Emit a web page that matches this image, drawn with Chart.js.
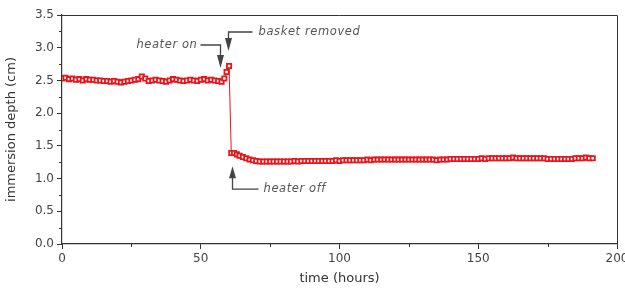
<!DOCTYPE html>
<html>
  <head>
    <title>Immersion depth</title>
    <script src="https://cdn.jsdelivr.net/npm/chart.js"></script>
    <style>
      body {
        margin: 0;
        background: #fff;
        overflow: hidden;
      }
      #wrap {
        width: 625px;
        height: 290px;
        overflow: hidden;
      }
    </style>
  </head>
  <body>
    <div id="wrap">
      <canvas id="depthChart" width="640" height="290"></canvas>
    </div>

    <script>
      // time (hours)
      const times = [
        0, 1.25, 2.5, 3.75, 5, 6.25, 7.5, 8.75, 10, 11.25, 12.5, 13.75, 15,
        16.25, 17.5, 18.75, 20, 21.25, 22.5, 23.75, 25, 26.25, 27.5, 28.75, 30,
        31.25, 32.5, 33.75, 35, 36.25, 37.5, 38.75, 40, 41.25, 42.5, 43.75, 45,
        46.25, 47.5, 48.75, 50, 51.25, 52.5, 53.75, 55, 56.25, 57.5,
        58.5, 59.3, 60.2,
        61, 62, 63, 64, 65.2, 66.4, 67.6, 68.8, 70,
        71.25, 72.5, 73.75, 75, 76.25, 77.5, 78.75, 80, 81.25, 82.5, 83.75, 85,
        86.25, 87.5, 88.75, 90, 91.25, 92.5, 93.75, 95, 96.25, 97.5, 98.75, 100,
        101.25, 102.5, 103.75, 105, 106.25, 107.5, 108.75, 110, 111.25, 112.5,
        113.75, 115, 116.25, 117.5, 118.75, 120, 121.25, 122.5, 123.75, 125,
        126.25, 127.5, 128.75, 130, 131.25, 132.5, 133.75, 135, 136.25, 137.5,
        138.75, 140, 141.25, 142.5, 143.75, 145, 146.25, 147.5, 148.75, 150,
        151.25, 152.5, 153.75, 155, 156.25, 157.5, 158.75, 160, 161.25, 162.5,
        163.75, 165, 166.25, 167.5, 168.75, 170, 171.25, 172.5, 173.75, 175,
        176.25, 177.5, 178.75, 180, 181.25, 182.5, 183.75, 185, 186.25, 187.5,
        188.75, 190, 191.25, 192.5, 193.75,
      ];

      // immersion depth (cm)
      const depths = [
        2.53, 2.54, 2.52, 2.53, 2.51, 2.52, 2.5, 2.52, 2.51, 2.51, 2.5, 2.5, 2.49,
        2.49, 2.48, 2.49, 2.48, 2.47, 2.48, 2.49, 2.5, 2.51, 2.52, 2.56, 2.53,
        2.49, 2.5, 2.51, 2.5, 2.49, 2.48, 2.5, 2.52, 2.51, 2.5, 2.49, 2.5,
        2.51, 2.5, 2.49, 2.51, 2.52, 2.5, 2.51, 2.5, 2.49, 2.48,
        2.53, 2.63, 2.72,
        1.39, 1.39, 1.37, 1.35, 1.33, 1.31, 1.29, 1.28, 1.27,
        1.26, 1.26, 1.26, 1.26, 1.26, 1.26, 1.26, 1.26, 1.26, 1.26, 1.27, 1.26,
        1.27, 1.27, 1.27, 1.27, 1.27, 1.27, 1.27, 1.27, 1.27, 1.27, 1.28, 1.27,
        1.28, 1.28, 1.28, 1.28, 1.28, 1.28, 1.28, 1.29, 1.28, 1.29,
        1.29, 1.29, 1.29, 1.29, 1.29, 1.29, 1.29, 1.29, 1.29, 1.29,
        1.29, 1.29, 1.29, 1.29, 1.29, 1.29, 1.29, 1.28, 1.29, 1.29,
        1.29, 1.3, 1.3, 1.3, 1.3, 1.3, 1.3, 1.3,
        1.3, 1.3, 1.31, 1.3, 1.31, 1.31, 1.31, 1.31, 1.31, 1.31,
        1.31, 1.32, 1.31, 1.31, 1.31, 1.31, 1.31, 1.31, 1.31, 1.31,
        1.31, 1.3, 1.3, 1.3, 1.3, 1.3, 1.3, 1.3, 1.3, 1.31,
        1.31, 1.31, 1.32, 1.31, 1.31,
      ];

      const xTicks = [0, 50, 100, 150, 200];
      const yTicks = [0, 0.5, 1.0, 1.5, 2.0, 2.5, 3.0, 3.5];

      // annotation anchors in data units: [time, depth]
      const notes = [
        { text: "heater on", at: [56.9, 2.69], side: "left" },
        { text: "basket removed", at: [59.8, 2.95], side: "right" },
        { text: "heater off", at: [61.3, 1.19], side: "below" },
      ];

      const points = times.map((t, i) => ({ x: t, y: depths[i] }));

      const FONT = "'DejaVu Sans', sans-serif";
      const AXIS = "#333";
      const RED = "#e8141c";

      // frame + minor ticks + arrows
      const extras = {
        id: "extras",
        afterDraw(chart) {
          const ctx = chart.ctx;
          const a = chart.chartArea;
          const xs = chart.scales.x;
          const ys = chart.scales.y;
          ctx.save();
          ctx.strokeStyle = AXIS;
          ctx.lineWidth = 1;
          ctx.beginPath();
          ctx.moveTo(a.left, a.top + 0.5);
          ctx.lineTo(a.right + 0.5, a.top + 0.5);
          ctx.lineTo(a.right + 0.5, a.bottom);
          ctx.stroke();

          // minor ticks
          ctx.beginPath();
          for (let v = 25; v < 200; v += 50) {
            const px = Math.round(xs.getPixelForValue(v)) + 0.5;
            ctx.moveTo(px, a.bottom);
            ctx.lineTo(px, a.bottom + 3);
          }
          for (let v = 0.25; v < 3.5; v += 0.5) {
            const py = Math.round(ys.getPixelForValue(v)) + 0.5;
            ctx.moveTo(a.left, py);
            ctx.lineTo(a.left - 3, py);
          }
          ctx.stroke();

          // annotations
          ctx.lineWidth = 1.3;
          ctx.font = "italic 11.5px " + FONT;
          ctx.letterSpacing = "0.6px";
          ctx.textBaseline = "middle";
          notes.forEach((n) => {
            const px = Math.round(xs.getPixelForValue(n.at[0])) + 0.5;
            const py = ys.getPixelForValue(n.at[1]);
            ctx.strokeStyle = "#444";
            ctx.fillStyle = "#444";
            ctx.beginPath();
            if (n.side === "below") {
              const ly = py + 23;
              ctx.moveTo(px, py + 10);
              ctx.lineTo(px, ly);
              ctx.lineTo(px + 26, ly);
              ctx.stroke();
              ctx.beginPath();
              ctx.moveTo(px, py);
              ctx.lineTo(px - 3.5, py + 12);
              ctx.lineTo(px + 3.5, py + 12);
              ctx.closePath();
              ctx.fill();
              ctx.fillStyle = "#555";
              ctx.textAlign = "left";
              ctx.fillText(n.text, px + 31, ly);
            } else {
              const ly = n.side === "left" ? py - 23 : py - 19;
              ctx.moveTo(px, py - 10);
              ctx.lineTo(px, ly);
              if (n.side === "left") ctx.lineTo(px - 20, ly);
              else ctx.lineTo(px + 24, ly);
              ctx.stroke();
              ctx.beginPath();
              ctx.moveTo(px, py);
              ctx.lineTo(px - 3.5, py - 13);
              ctx.lineTo(px + 3.5, py - 13);
              ctx.closePath();
              ctx.fill();
              ctx.fillStyle = "#555";
              if (n.side === "left") {
                ctx.textAlign = "right";
                ctx.fillText(n.text, px - 23, ly);
              } else {
                ctx.textAlign = "left";
                ctx.fillText(n.text, px + 30, ly);
              }
            }
          });
          ctx.restore();
        },
      };

      new Chart(document.getElementById("depthChart"), {
        type: "line",
        data: {
          datasets: [
            {
              label: "immersion depth",
              data: points,
              borderColor: RED,
              borderWidth: 1,
              backgroundColor: "#fff",
              pointStyle: "rect",
              pointRadius: 3,
              pointBorderWidth: 1.8,
              pointBorderColor: RED,
              pointBackgroundColor: "#fff",
              tension: 0,
            },
          ],
        },
        options: {
          responsive: false,
          animation: false,
          layout: { padding: { top: 15, right: 23, left: 0, bottom: 0 } },
          plugins: {
            legend: { display: false },
            tooltip: { enabled: false },
          },
          scales: {
            x: {
              type: "linear",
              min: 0,
              max: 200,
              afterBuildTicks: (s) => {
                s.ticks = xTicks.map((v) => ({ value: v }));
              },
              afterFit: (s) => {
                s.height = 46;
              },
              grid: {
                display: true,
                drawOnChartArea: false,
                tickLength: 5,
                color: AXIS,
              },
              border: { color: AXIS, width: 1.2 },
              ticks: {
                color: "#444",
                font: { family: FONT, size: 12 },
                padding: 3,
                maxRotation: 0,
              },
              title: {
                display: true,
                text: "time (hours)",
                color: "#333",
                font: { family: FONT, size: 13 },
                padding: { top: 6 },
              },
            },
            y: {
              min: 0,
              max: 3.5,
              afterBuildTicks: (s) => {
                s.ticks = yTicks.map((v) => ({ value: v }));
              },
              afterFit: (s) => {
                s.width = 62;
              },
              grid: {
                display: true,
                drawOnChartArea: false,
                tickLength: 5,
                color: AXIS,
              },
              border: { color: AXIS, width: 1.2 },
              ticks: {
                color: "#444",
                font: { family: FONT, size: 12 },
                padding: 3,
                callback: (v) => v.toFixed(1),
              },
              title: {
                display: true,
                text: "immersion depth (cm)",
                color: "#333",
                font: { family: FONT, size: 13 },
                padding: { bottom: 4 },
              },
            },
          },
        },
        plugins: [extras],
      });
    </script>
  </body>
</html>
